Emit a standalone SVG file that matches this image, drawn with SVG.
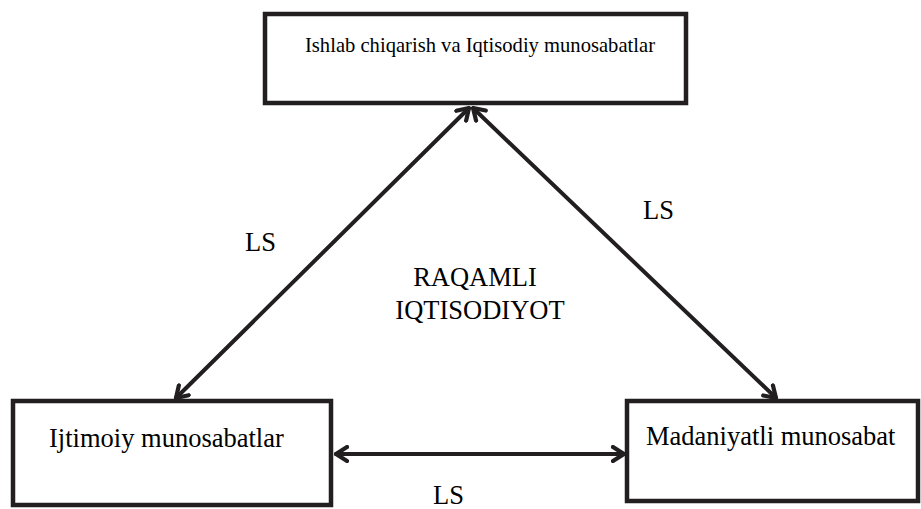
<svg xmlns="http://www.w3.org/2000/svg" width="921" height="509" viewBox="0 0 921 509">
<style>
.box{fill:#fff;stroke:#231f20;stroke-width:4.5}
.t{font-family:"Liberation Serif","Times New Roman",Times,"DejaVu Serif",serif;fill:#000;font-size:26.5px}
.c{stroke:#231f20;stroke-width:4;fill:none;stroke-linecap:round}
</style>
<defs>
<marker id="ah" viewBox="-13 -9 15 18" markerWidth="15" markerHeight="18" refX="0" refY="0" orient="auto-start-reverse" markerUnits="userSpaceOnUse">
<path d="M-11,-7 L0,0 L-11,7" fill="none" stroke="#231f20" stroke-width="4.2" stroke-linecap="round" stroke-linejoin="round"/>
</marker>
</defs>
<rect width="921" height="509" fill="#fff"/>
<g id="connectors">
<line class="c" x1="469" y1="108" x2="176" y2="398" marker-start="url(#ah)" marker-end="url(#ah)"/>
<line class="c" x1="473" y1="108" x2="776" y2="398" marker-start="url(#ah)" marker-end="url(#ah)"/>
<line class="c" x1="336" y1="454" x2="624" y2="454" marker-start="url(#ah)" marker-end="url(#ah)"/>
</g>
<g id="top">
<rect class="box" x="265" y="14" width="421" height="89"/>
<text class="t" x="305" y="52" style="font-size:21px" textLength="350" lengthAdjust="spacingAndGlyphs">Ishlab chiqarish va Iqtisodiy munosabatlar</text>
</g>
<g id="left">
<rect class="box" x="13" y="401" width="318" height="104"/>
<text class="t" x="49" y="447">Ijtimoiy munosabatlar</text>
</g>
<g id="right">
<rect class="box" x="627" y="401" width="291" height="100"/>
<text class="t" x="646" y="445">Madaniyatli munosabat</text>
</g>
<g id="labels">
<text class="t" x="245" y="251">LS</text>
<text class="t" x="643" y="219">LS</text>
<text class="t" x="433" y="504">LS</text>
<text class="t" x="475" y="286" text-anchor="middle">RAQAMLI</text>
<text class="t" x="480" y="319" text-anchor="middle">IQTISODIYOT</text>
</g>
</svg>
